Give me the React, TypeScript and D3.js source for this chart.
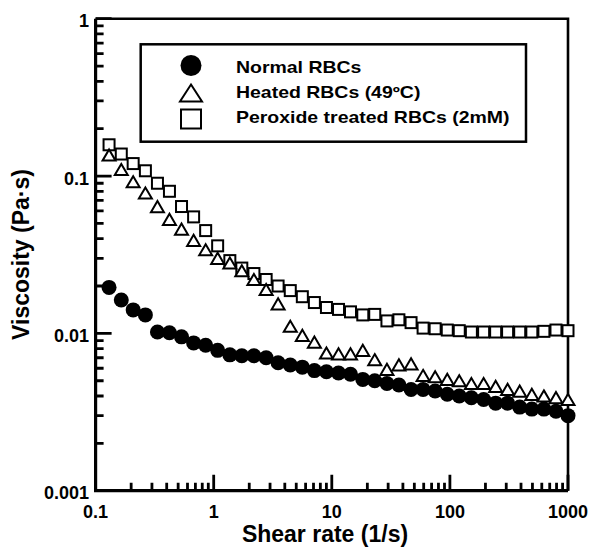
import React from 'react';
import * as d3 from 'd3';

// shear rate (1/s), same for every series
const shearRate = [
  0.13, 0.165, 0.208, 0.264, 0.334, 0.422, 0.534, 0.676, 0.855, 1.08,
  1.37, 1.73, 2.19, 2.78, 3.51, 4.45, 5.63, 7.12, 9.01, 11.4,
  14.4, 18.3, 23.1, 29.3, 37.0, 46.9, 59.3, 75.0, 95.0, 120,
  152, 193, 244, 308, 390, 494, 625, 791, 1000,
];

// viscosity (Pa·s)
const normalRBC = [
  0.0196, 0.0163, 0.0141, 0.0131, 0.0102, 0.0101, 0.0095, 0.0087, 0.0084, 0.0078,
  0.0073, 0.0072, 0.0072, 0.0070, 0.0065, 0.0063, 0.0061, 0.0058, 0.0057, 0.0056,
  0.0055, 0.0051, 0.0050, 0.0048, 0.0047, 0.0044, 0.0044, 0.0043, 0.0041, 0.0040,
  0.0039, 0.0038, 0.0036, 0.0036, 0.0034, 0.0033, 0.0033, 0.0032, 0.0030,
];
const heatedRBC = [
  0.136, 0.110, 0.092, 0.078, 0.064, 0.053, 0.046, 0.039, 0.034, 0.030,
  0.028, 0.025, 0.022, 0.019, 0.0154, 0.0111, 0.0097, 0.0088, 0.0075, 0.0074,
  0.0074, 0.0078, 0.0068, 0.0059, 0.0063, 0.0064, 0.0054, 0.0053, 0.0051, 0.0050,
  0.0048, 0.0048, 0.0046, 0.0044, 0.0043, 0.0041, 0.0040, 0.0039, 0.0038,
];
const peroxideRBC = [
  0.158, 0.138, 0.120, 0.108, 0.090, 0.080, 0.064, 0.055, 0.045, 0.036,
  0.029, 0.026, 0.024, 0.022, 0.020, 0.0187, 0.0171, 0.0157, 0.0146, 0.0142,
  0.0137, 0.0131, 0.0132, 0.0120, 0.0122, 0.0117, 0.0108, 0.0107, 0.0105, 0.0104,
  0.0102, 0.0102, 0.0102, 0.0102, 0.0102, 0.0102, 0.0103, 0.0105, 0.0104,
];

const xTicks = [0.1, 1, 10, 100, 1000];
const xTickLabels = ['0.1', '1', '10', '100', '1000'];
const yTicks = [0.001, 0.01, 0.1, 1];
const yTickLabels = ['0.001', '0.01', '0.1', '1'];
const legendLabels = ['Normal RBCs', 'Heated RBCs (49ºC)', 'Peroxide treated RBCs (2mM)'];

const FONT = 'Arial, "Liberation Sans", Helvetica, sans-serif';

const x = d3.scaleLog().domain([0.1, 1000]).range([95.6, 568]);
const y = d3.scaleLog().domain([0.001, 1]).range([490.7, 18.7]);

const triangle = (cx: number, cy: number, w: number, h: number) =>
  `M${cx},${cy - h / 2}L${cx + w / 2},${cy + h / 2}L${cx - w / 2},${cy + h / 2}Z`;

const App = () => {
  if (typeof document !== 'undefined') document.body.style.margin = '0';
  const [x0, x1] = x.range();
  const [y0, y1] = y.range();
  // minor ticks come from the log scale itself (2..9 in every decade)
  const xAll = x.ticks();
  const yAll = y.ticks();
  const major = (list: number[], v: number) => list.some(t => Math.abs(t - v) / t < 1e-6);

  let tickPath = '';
  xAll.forEach(v => {
    const len = major(xTicks, v) ? 16 : 8;
    tickPath += `M${x(v)},${y0}V${y0 - len}`;
  });
  yAll.forEach(v => {
    const len = major(yTicks, v) ? 16 : 8;
    tickPath += `M${x0},${y(v)}H${x0 + len}`;
  });

  return (
    <svg width={589} height={550} style={{ display: 'block' }} fontFamily={FONT} fontWeight="bold">
      <rect x={0} y={0} width={589} height={550} fill="#fff" />
      {/* ticks, pointing inward */}
      <path d={tickPath} fill="none" stroke="#000" strokeWidth={2.8} />
      <path d={`M${x0},${y1}V${y0}H${x1}`} fill="none" stroke="#000" strokeWidth={3.2} />
      <path d={`M${x0},${y1}H${x1}V${y0}`} fill="none" stroke="#000" strokeWidth={2.6} />

      {/* tick labels */}
      {xTicks.map((v, i) => (
        <text key={'xl' + i} x={x(v)} y={518} textAnchor="middle" fontSize={18}>{xTickLabels[i]}</text>
      ))}
      {yTicks.map((v, i) => (
        <text key={'yl' + i} x={89} y={y(v) + 8.5} textAnchor="end" fontSize={18}>{yTickLabels[i]}</text>
      ))}

      {/* axis titles */}
      <text x={325} y={542} textAnchor="middle" fontSize={23}>Shear rate (1/s)</text>
      <text transform="translate(28.5,254.5) rotate(-90)" textAnchor="middle" fontSize={23}>Viscosity (Pa·s)</text>

      {/* legend */}
      <rect x={140.7} y={44.3} width={385.3} height={97.4} fill="#fff" stroke="#000" strokeWidth={2.5} />
      <circle cx={191} cy={65.5} r={10.5} fill="#000" />
      <path d={triangle(191, 93, 22, 17)} fill="#fff" stroke="#000" strokeWidth={2} />
      <rect x={181} y={109.5} width={20} height={19} fill="#fff" stroke="#000" strokeWidth={2} />
      {legendLabels.map((d, i) => (
        <text key={'lg' + i} transform={`translate(236,${72.7 + i * 25.3}) scale(1.18,1)`} fontSize={16.5}>{d}</text>
      ))}

      {/* data */}
      {shearRate.map((s, i) => (
        <circle key={'n' + i} cx={x(s)} cy={y(normalRBC[i])} r={7.5} fill="#000" />
      ))}
      {shearRate.map((s, i) => (
        <rect key={'p' + i} x={x(s) - 5.5} y={y(peroxideRBC[i]) - 5.5} width={11} height={11}
          fill="#fff" stroke="#000" strokeWidth={2} />
      ))}
      {shearRate.map((s, i) => (
        <path key={'h' + i} d={triangle(x(s), y(heatedRBC[i]), 13, 11.2)}
          fill="#fff" stroke="#000" strokeWidth={2} />
      ))}
    </svg>
  );
};

export default App;
